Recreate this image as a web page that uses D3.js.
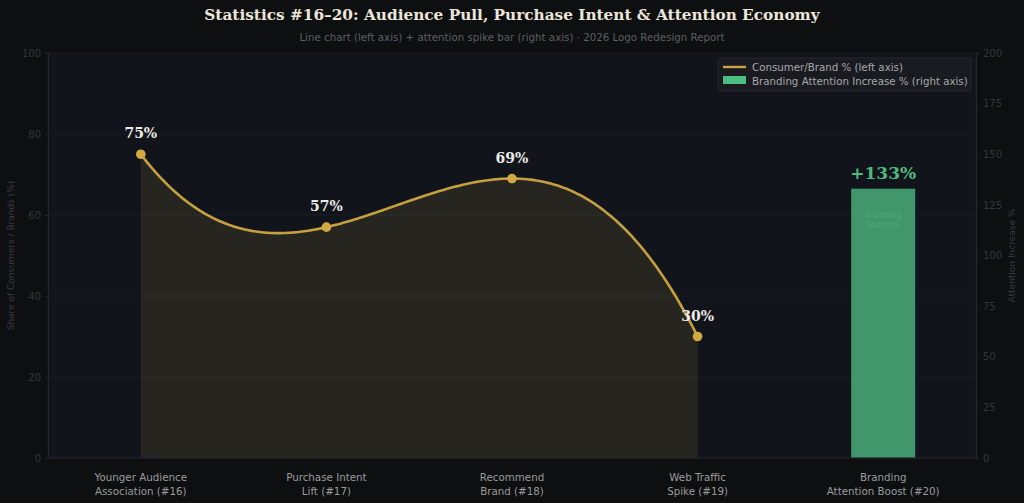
<!DOCTYPE html>
<html><head><meta charset="utf-8">
<script src="https://cdn.jsdelivr.net/npm/d3@7"></script>
<style>
html,body{margin:0;padding:0;background:#0e0f11;}
svg{display:block;}
</style></head>
<body>
<svg id="c" width="1024" height="503"></svg>
<script>
const categories = ["Younger Audience\nAssociation (#16)","Purchase Intent\nLift (#17)","Recommend\nBrand (#18)","Web Traffic\nSpike (#19)","Branding\nAttention Boost (#20)"];
const lineCats = categories.slice(0,4);
const lineValues = [75,57,69,30];
const lineLabels = ["75%","57%","69%","30%"];
const barCat = categories[4];
const barValue = 133;
const barLabel = "+133%";
const leftTicks = [0,20,40,60,80,100];
const rightTicks = [0,25,50,75,100,125,150,175,200];

const svg = d3.select("#c");
const W=1024,H=503;
const m={l:48,r:48,t:53,b:45};
const x0=m.l,x1=W-m.r,y0=H-m.b,y1=m.t;

svg.append("rect").attr("width",W).attr("height",H).attr("fill","#0e0f11");
svg.append("rect").attr("x",x0).attr("y",y1).attr("width",x1-x0).attr("height",y0-y1).attr("fill","#11141b");

const x=d3.scaleBand().domain(categories).range([x0,x1]).padding(0);
const yL=d3.scaleLinear().domain([0,100]).range([y0,y1]);
const yR=d3.scaleLinear().domain([0,200]).range([y0,y1]);
const cx=c=>x(c)+x.bandwidth()/2;

// grid
svg.append("g").selectAll("line").data(leftTicks.slice(1,5)).join("line")
 .attr("x1",x0).attr("x2",x1).attr("y1",d=>yL(d)).attr("y2",d=>yL(d))
 .attr("stroke","#201f27").attr("stroke-width",0.8);

// smooth curve: cubic interpolating polynomial through the data points (index space)
const n=lineValues.length;
function lagrange(t){
  let s=0;
  for(let i=0;i<n;i++){
    let p=lineValues[i];
    for(let j=0;j<n;j++){ if(j!==i) p*= (t-j)/(i-j); }
    s+=p;
  }
  return s;
}
const idx=d3.scaleLinear().domain([0,n-1]).range([cx(lineCats[0]),cx(lineCats[n-1])]);
const samples=d3.range(0,(n-1)+1e-9,(n-1)/300).map(t=>[idx(t),yL(lagrange(t))]);
const pts=lineCats.map((c,i)=>[cx(c),yL(lineValues[i])]);
const area=d3.area().x(d=>d[0]).y0(y0).y1(d=>d[1]);
svg.append("path").attr("d",area(samples)).attr("fill","#c9a544").attr("fill-opacity",0.12);
const line=d3.line().x(d=>d[0]).y(d=>d[1]);
svg.append("path").attr("d",line(samples)).attr("fill","none").attr("stroke","#c4a040").attr("stroke-width",2.6).attr("stroke-linejoin","round");
svg.append("g").selectAll("circle").data(pts).join("circle")
 .attr("cx",d=>d[0]).attr("cy",d=>d[1]).attr("r",4.8).attr("fill","#d3a944");
svg.append("g").selectAll("text").data(pts).join("text")
 .attr("x",d=>d[0]).attr("y",d=>d[1]-16).attr("text-anchor","middle")
 .attr("font-family","DejaVu Serif").attr("font-weight","bold").attr("font-size",14)
 .attr("fill","#ecebe6").text((d,i)=>lineLabels[i]);

// bar
const bw=x.bandwidth()*0.345;
svg.append("rect").attr("x",cx(barCat)-bw/2).attr("y",yR(barValue)).attr("width",bw).attr("height",y0-yR(barValue))
 .attr("fill","#41966b");
svg.append("text").attr("x",cx(barCat)).attr("y",yR(barValue)-10).attr("text-anchor","middle")
 .attr("font-family","DejaVu Serif").attr("font-weight","bold").attr("font-size",17)
 .attr("fill","#4fbb7f").text(barLabel);
const bt=svg.append("text").attr("x",cx(barCat)).attr("y",yR(barValue)+29).attr("text-anchor","middle")
 .attr("font-family","DejaVu Sans").attr("font-size",8).attr("fill","#55a57b");
bt.append("tspan").attr("x",cx(barCat)).text("Branding");
bt.append("tspan").attr("x",cx(barCat)).attr("dy",10).text("Seconds");

// spines
svg.append("rect").attr("x",x0).attr("y",y1).attr("width",x1-x0).attr("height",y0-y1).attr("fill","none").attr("stroke","#1c1e24").attr("stroke-width",0.8);
svg.append("line").attr("x1",x0).attr("x2",x1).attr("y1",y0).attr("y2",y0).attr("stroke","#2a2a2e").attr("stroke-width",0.8);

// axes
const axL=svg.append("g").attr("transform",`translate(${x0},0)`).call(d3.axisLeft(yL).tickValues(leftTicks).tickSize(3).tickPadding(4));
const axR=svg.append("g").attr("transform",`translate(${x1},0)`).call(d3.axisRight(yR).tickValues(rightTicks).tickSize(3).tickPadding(4));
[axL,axR].forEach(a=>{
 a.select(".domain").attr("stroke","#25262b");
 a.selectAll(".tick line").attr("stroke","#25262b");
 a.selectAll(".tick text").attr("fill","#34363b").attr("font-family","DejaVu Sans").attr("font-size",10);
});

// x labels
const xl=svg.append("g").selectAll("text").data(categories).join("text")
 .attr("text-anchor","middle").attr("font-family","DejaVu Sans").attr("font-size",10.3).attr("fill","#9b9b9b");
xl.each(function(d){
 const t=d3.select(this);
 d.split("\n").forEach((s,i)=>t.append("tspan").attr("x",cx(d)).attr("y",y0+23+i*14).text(s));
});

// axis titles
svg.append("text").attr("transform",`translate(14,${(y0+y1)/2}) rotate(-90)`).attr("text-anchor","middle")
 .attr("font-family","DejaVu Sans").attr("font-size",9).attr("fill","#393b40").text("Share of Consumers / Brands (%)");
svg.append("text").attr("transform",`translate(1015,${(y0+y1)/2}) rotate(-90)`).attr("text-anchor","middle")
 .attr("font-family","DejaVu Sans").attr("font-size",9).attr("fill","#393b40").text("Attention Increase %");

// title
svg.append("text").attr("x",512).attr("y",20).attr("text-anchor","middle")
 .attr("font-family","DejaVu Serif").attr("font-weight","bold").attr("font-size",15.3).attr("fill","#ece6da")
 .text("Statistics #16–20: Audience Pull, Purchase Intent & Attention Economy");
svg.append("text").attr("x",512).attr("y",41).attr("text-anchor","middle")
 .attr("font-family","DejaVu Sans").attr("font-size",10.25).attr("fill","#5b5e63")
 .text("Line chart (left axis) + attention spike bar (right axis) · 2026 Logo Redesign Report");

// legend
const lg=svg.append("g").attr("transform","translate(718,58)");
lg.append("rect").attr("width",253).attr("height",33).attr("rx",2).attr("fill","#191b21").attr("stroke","#2a2c31").attr("stroke-width",0.8);
lg.append("line").attr("x1",5).attr("x2",28).attr("y1",9).attr("y2",9).attr("stroke","#c9a544").attr("stroke-width",2.4);
lg.append("rect").attr("x",5).attr("y",18).attr("width",23).attr("height",8).attr("fill","#4cbf80");
lg.append("text").attr("x",34).attr("y",12.5).attr("font-family","DejaVu Sans").attr("font-size",10.25).attr("fill","#a8a8a8").text("Consumer/Brand % (left axis)");
lg.append("text").attr("x",34).attr("y",26.5).attr("font-family","DejaVu Sans").attr("font-size",10.25).attr("fill","#a8a8a8").text("Branding Attention Increase % (right axis)");
</script>
</body></html>
